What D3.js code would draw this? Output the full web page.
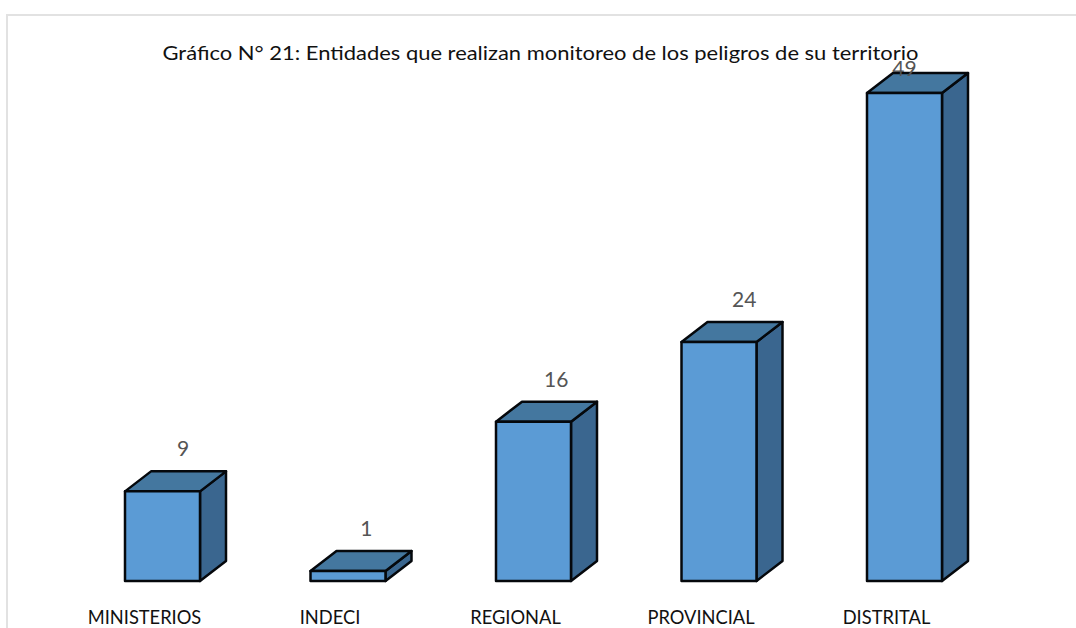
<!DOCTYPE html>
<html>
<head>
<meta charset="utf-8">
<script src="https://cdn.jsdelivr.net/npm/d3@7"></script>
<style>
    html, body { margin: 0; padding: 0; background: #fff; overflow: hidden; }
    svg { display: block; }
    text { font-family: Lato, "Open Sans", sans-serif; }
    .x-axis path, .x-axis line { display: none; }
    .x-axis text { font-size: 18.3px; fill: #111; }
    .value { font-size: 21px; fill: #555; text-anchor: middle; }
</style>
</head>
<body>
<div id="chart-container"></div>
<script>
const categories = ['MINISTERIOS', 'INDECI', 'REGIONAL', 'PROVINCIAL', 'DISTRITAL'];
const values = [9, 1, 16, 24, 49];
const title = 'Gráfico N° 21: Entidades que realizan monitoreo de los peligros de su territorio';

const width = 1076;
const height = 628;
const depthX = 26;
const depthY = 20;
const labelFloor = 76;

const svg = d3.select('#chart-container')
    .append('svg')
    .attr('width', width)
    .attr('height', height);

// frame of the pasted chart, only top and left show
svg.append('path')
    .attr('d', `M7,${height}V15H${width}`)
    .attr('fill', 'none')
    .attr('stroke', '#e2e2e2')
    .attr('stroke-width', 2);

const xScale = d3.scaleBand()
    .domain(categories)
    .range([69.75, 997.25])
    .paddingInner(0.5957)
    .paddingOuter(0.29785);

const yScale = d3.scaleLinear()
    .domain([0, 49])
    .range([581, 93]);

svg.append('text')
    .attr('x', 540.5)
    .attr('y', 60)
    .attr('text-anchor', 'middle')
    .attr('font-size', 18.6)
    .attr('fill', '#111')
    .attr('textLength', 756)
    .attr('lengthAdjust', 'spacingAndGlyphs')
    .text(title);

// category labels sit left of the bars in the original
svg.append('g')
    .attr('class', 'x-axis')
    .attr('transform', 'translate(-18,581)')
    .call(d3.axisBottom(xScale).tickSize(0).tickPadding(30));

const bars = svg.selectAll('.bar')
    .data(categories.map((c, i) => ({ label: c, value: values[i] })))
    .join('g')
    .attr('class', 'bar')
    .attr('stroke', '#05080c')
    .attr('stroke-width', 2.5)
    .attr('stroke-linejoin', 'round');

// right side
bars.append('path')
    .attr('fill', '#3a668f')
    .attr('d', d => {
        const x = xScale(d.label) + xScale.bandwidth();
        const y = yScale(d.value);
        const y0 = yScale(0);
        return `M${x},${y}l${depthX},${-depthY}V${y0 - depthY}L${x},${y0}Z`;
    });

// top
bars.append('path')
    .attr('fill', '#44779f')
    .attr('d', d => {
        const x = xScale(d.label);
        const y = yScale(d.value);
        const w = xScale.bandwidth();
        return `M${x},${y}l${depthX},${-depthY}h${w}l${-depthX},${depthY}Z`;
    });

// front
bars.append('rect')
    .attr('fill', '#5b9bd5')
    .attr('x', d => xScale(d.label))
    .attr('y', d => yScale(d.value))
    .attr('width', xScale.bandwidth())
    .attr('height', d => yScale(0) - yScale(d.value));

// value labels drift right with height, the tallest one is pushed down onto its bar
const labelY = d => yScale(d) - 35;
const labelX = (d, i) => {
    const center = xScale(categories[i]) + xScale.bandwidth() / 2;
    return labelY(d) < labelFloor ? center : center + 18 + 0.3 * d;
};

svg.selectAll('.value')
    .data(values)
    .join('text')
    .attr('class', 'value')
    .attr('x', labelX)
    .attr('y', d => Math.max(labelY(d), labelFloor))
    .text(d => d);
</script>
</body>
</html>
